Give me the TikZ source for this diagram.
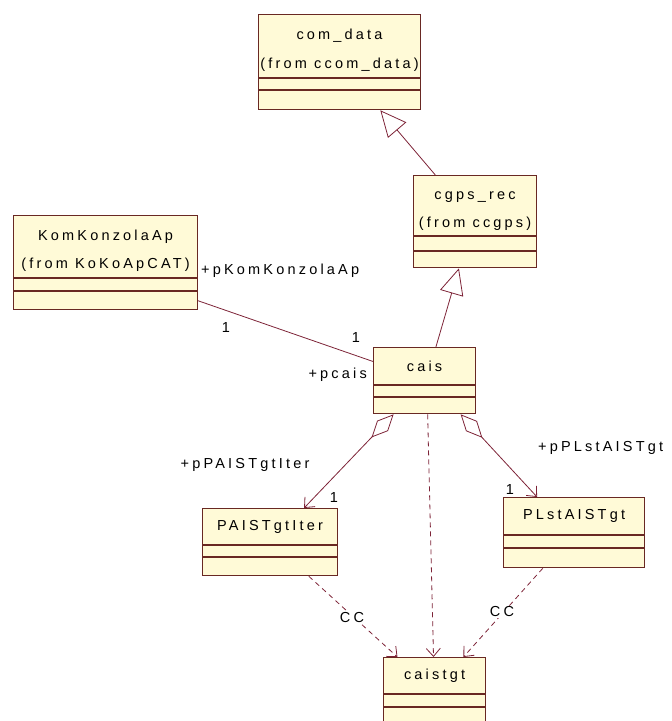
\documentclass[tikz,border=0pt]{standalone}
\usepackage{fontspec}
\setmainfont[LetterSpace=22]{Liberation Sans}
\usetikzlibrary{arrows.meta,calc}
\definecolor{clsfill}{RGB}{255,250,215}
\definecolor{clsline}{RGB}{105,40,35}
\definecolor{relline}{RGB}{125,35,55}
\begin{document}
\begin{tikzpicture}[x=1pt, y=-1pt,
  cls/.style={draw=clsline, fill=clsfill, line width=1.1pt, anchor=north west, inner sep=0pt, align=center, font=\fontsize{14.5}{28.5}\selectfont},
  comp/.style={draw=clsline, fill=clsfill, line width=1.1pt, anchor=north west, inner sep=0pt},
  gen/.style={draw=relline, line width=0.8pt, -{Triangle[open, length=26pt, width=24pt]}},
  agg/.style={draw=relline, line width=0.8pt, {Diamond[open, length=32pt, width=15pt]}-{Straight Barb[length=8pt, width=14pt]}},
  dep/.style={draw=relline, line width=0.8pt, dash pattern=on 5pt off 4pt, -{Straight Barb[length=8pt, width=14pt]}},
  lbl/.style={font=\fontsize{14.5}{16}\selectfont, inner sep=1pt}]
  \useasboundingbox (0,0) rectangle (672,721);
  % Classes
  \node[cls, minimum width=162pt, minimum height=63pt] (comdata) at (258,14) {\rule{0pt}{19pt}com\_data\\(from ccom\_data)};
  \node[comp, minimum width=162pt, minimum height=11pt] (comdataA) at (comdata.south west) {};
  \node[comp, minimum width=162pt, minimum height=19pt] (comdataO) at (comdataA.south west) {};

  \node[cls, minimum width=123pt, minimum height=60pt] (cgps) at (413,175) {\rule{0pt}{19pt}cgps\_rec\\(from ccgps)};
  \node[comp, minimum width=123pt, minimum height=14pt] (cgpsA) at (cgps.south west) {};
  \node[comp, minimum width=123pt, minimum height=16pt] (cgpsO) at (cgpsA.south west) {};

  \node[cls, minimum width=184pt, minimum height=62pt] (kka) at (13,215) {\rule{0pt}{19pt}KomKonzolaAp\\(from KoKoApCAT)};
  \node[comp, minimum width=184pt, minimum height=12pt] (kkaA) at (kka.south west) {};
  \node[comp, minimum width=184pt, minimum height=18pt] (kkaO) at (kkaA.south west) {};

  \node[cls, minimum width=102pt, minimum height=37pt] (cais) at (373,347) {cais};
  \node[comp, minimum width=102pt, minimum height=11pt] (caisA) at (cais.south west) {};
  \node[comp, minimum width=102pt, minimum height=16pt] (caisO) at (caisA.south west) {};

  \node[cls, minimum width=135pt, minimum height=36pt] (pait) at (202,508) {PAISTgtIter};
  \node[comp, minimum width=135pt, minimum height=11pt] (paitA) at (pait.south west) {};
  \node[comp, minimum width=135pt, minimum height=18pt] (paitO) at (paitA.south west) {};

  \node[cls, minimum width=141pt, minimum height=37pt] (plst) at (503,497) {PLstAISTgt};
  \node[comp, minimum width=141pt, minimum height=12pt] (plstA) at (plst.south west) {};
  \node[comp, minimum width=141pt, minimum height=19pt] (plstO) at (plstA.south west) {};

  \node[cls, minimum width=102pt, minimum height=36pt] (cgt) at (383,657) {caistgt};
  \node[comp, minimum width=102pt, minimum height=12pt] (cgtA) at (cgt.south west) {};
  \node[comp, minimum width=102pt, minimum height=17pt] (cgtO) at (cgtA.south west) {};

  % Generalizations
  \draw[gen] ($(cgps.north west)!0.18!(cgps.north east)$) -- ($(comdataO.south west)!0.75!(comdataO.south east)$);
  \draw[gen] ($(cais.north west)!0.61!(cais.north east)$) -- ($(cgpsO.south west)!0.37!(cgpsO.south east)$);

  % Association
  \draw[relline, line width=0.8pt] (kkaO.east) -- ($(cais.north west)!0.38!(cais.south west)$);
  \node[lbl, anchor=west] (rolekka) at (200,271) {+pKomKonzolaAp};
  \node[lbl] (multkka) at (226,328) {1};
  \node[lbl] (multcais) at (356,338) {1};
  \node[lbl, anchor=east] (rolecais) at (368,375) {+pcais};

  % Aggregations
  \draw[agg] ($(caisO.south west)!0.2!(caisO.south east)$) -- ($(pait.north west)!0.75!(pait.north east)$);
  \node[lbl] (rolepait) at (245,465) {+pPAISTgtIter};
  \node[lbl] (multpait) at (334,498) {1};
  \draw[agg] ($(caisO.south west)!0.85!(caisO.south east)$) -- ($(plst.north west)!0.24!(plst.north east)$);
  \node[lbl, anchor=west] (roleplst) at (537,448) {+pPLstAISTgt};
  \node[lbl] (multplst) at (510,490) {1};

  % Dependencies
  \draw[dep] ($(caisO.south west)!0.53!(caisO.south east)$) -- ($(cgt.north west)!0.49!(cgt.north east)$);
  \draw[dep] ($(paitO.south west)!0.785!(paitO.south east)$) -- ($(cgt.north west)!0.14!(cgt.north east)$);
  \node[lbl, fill=white] (ccleft) at (352,617) {CC};
  \draw[dep] ($(plstO.south west)!0.28!(plstO.south east)$) -- ($(cgt.north west)!0.78!(cgt.north east)$);
  \node[lbl, fill=white] (ccright) at (502,612) {CC};
\end{tikzpicture}
\end{document}
